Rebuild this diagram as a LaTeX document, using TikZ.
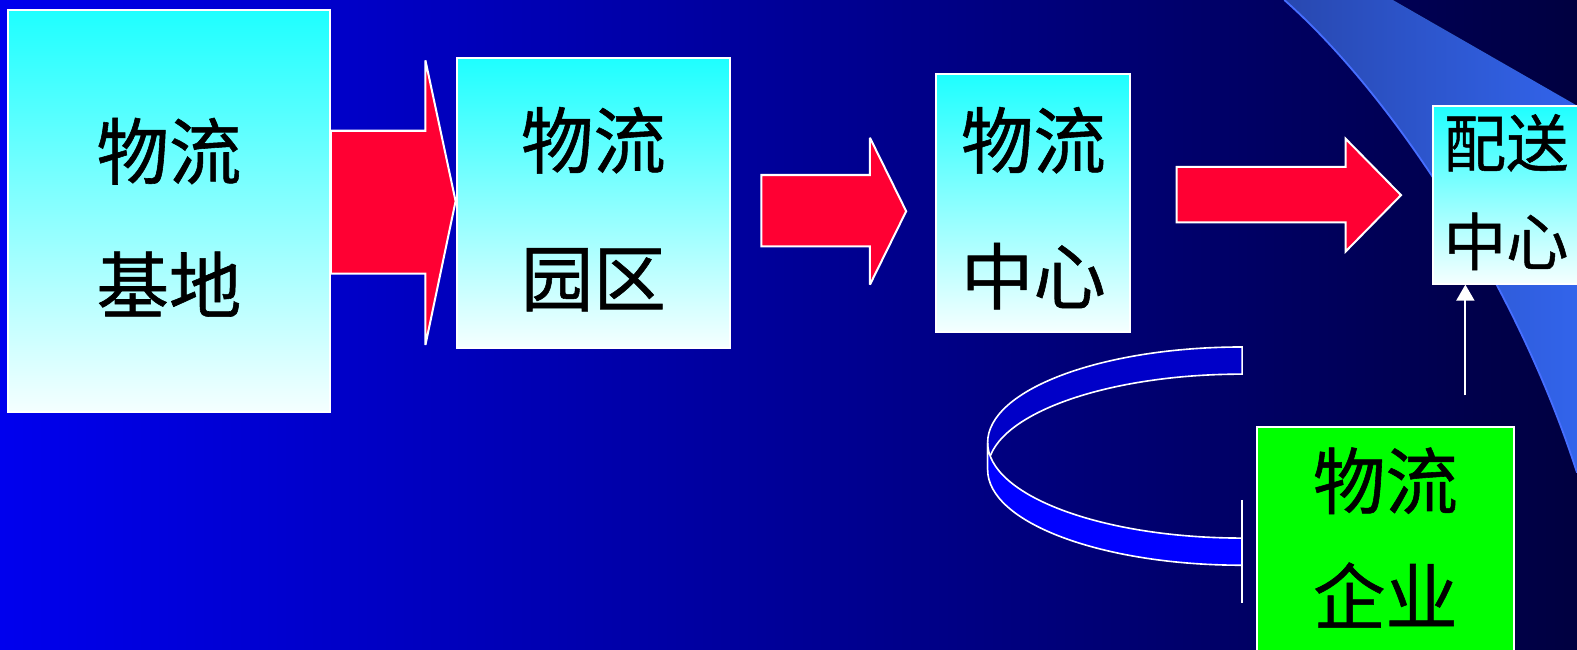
\documentclass[tikz,border=0pt]{standalone}
\usepackage{fontspec}
\newfontfamily\cjk[FakeBold=0.8]{Noto Sans CJK SC}
\usetikzlibrary{arrows.meta}
\definecolor{bgL}{RGB}{0,0,238}
\definecolor{bgR}{RGB}{0,0,64}
\definecolor{swL}{RGB}{40,72,176}
\definecolor{swR}{RGB}{50,100,235}
\definecolor{swEdge}{RGB}{70,110,255}
\definecolor{arrred}{RGB}{255,0,51}
\definecolor{boxtop}{RGB}{30,255,255}
\definecolor{boxbot}{RGB}{245,255,255}
\definecolor{bandback}{RGB}{0,0,200}
\definecolor{bandfront}{RGB}{0,0,255}
\definecolor{entgreen}{RGB}{0,255,0}
\begin{document}
\begin{tikzpicture}[x=1pt,y=-1pt,
  box/.style={draw=white, line width=2pt, top color=boxtop, bottom color=boxbot, inner sep=0pt},
  label/.style={font=\cjk\fontsize{72}{133}\selectfont, align=center, text=black, inner sep=0pt},
  blockarrow/.style={draw=white, line width=2pt, fill=arrred, line join=miter, miter limit=4},
  band/.style={draw=white, line width=1.6pt},
]
\clip (0,0) rectangle (1568,646);
% background
\fill[left color=bgL, right color=bgR] (0,0) rectangle (1568,646);
% swoosh
\fill[left color=swL, right color=swR] (1277,0) .. controls (1390,100) and (1510,290) .. (1568,470) -- (1568,105) -- (1385,0) -- cycle;
\draw[swEdge, line width=1.8pt] (1277,0) .. controls (1390,100) and (1510,290) .. (1568,470);

% boxes
\node[box, minimum width=320pt, minimum height=400pt] (b1) at (168,210) {};
\node[label] at (168,216) {物流\\基地};
\node[box, minimum width=272pt, minimum height=288pt] (b2) at (590,202) {};
\node[label, font=\cjk\fontsize{72}{137}\selectfont] at (590,208) {物流\\园区};
\node[box, minimum width=193pt, minimum height=256pt] (b3) at (1027.5,202) {};
\node[label, font=\cjk\fontsize{72}{135}\selectfont] at (1027.5,207) {物流\\中心};
\node[box, minimum width=145pt, minimum height=177pt] (b4) at (1497.5,193.5) {};
\node[label, font=\cjk\fontsize{62}{98}\selectfont] at (1497.5,191) {配送\\中心};
\node[box, fill=entgreen, top color=entgreen, bottom color=entgreen, minimum width=255pt, minimum height=275pt] (g) at (1377.5,562.5) {};
\node[label, font=\cjk\fontsize{72}{115}\selectfont] at (1377.5,534.5) {物流\\企业};

% block arrows
\filldraw[blockarrow] (b1.east |- 0,130) -- (423,130) -- (423,60) -- (b2.west |- 0,200) -- (423,343) -- (423,272) -- (b1.east |- 0,272) -- cycle;
\filldraw[blockarrow] (757,174) -- (865,174) -- (865,137) -- (901,210) -- (865,283) -- (865,245) -- (757,245) -- cycle;
\filldraw[blockarrow] (1170,166) -- (1338,166) -- (1338,138) -- (1393,194) -- (1338,250) -- (1338,221) -- (1170,221) -- cycle;

% small arrow from 物流企业 up to 配送中心
\coordinate (sa) at (1457,393);
\draw[white, line width=1.8pt, -{Triangle[width=18pt,length=16pt]}] (sa) -- (sa |- b4.south);

% curved band
\filldraw[band, fill=bandback] (1235,345) arc[start angle=-90, end angle=-180, x radius=253, y radius=95] -- (982,467) arc[start angle=180, end angle=270, x radius=253, y radius=95] -- cycle;
\filldraw[band, fill=bandfront] (982,440) arc[start angle=180, end angle=90, x radius=253, y radius=95] -- (1235,562) arc[start angle=90, end angle=180, x radius=253, y radius=95] -- cycle;
\draw[band] (1235,497) -- (1235,600);
\end{tikzpicture}
\end{document}
